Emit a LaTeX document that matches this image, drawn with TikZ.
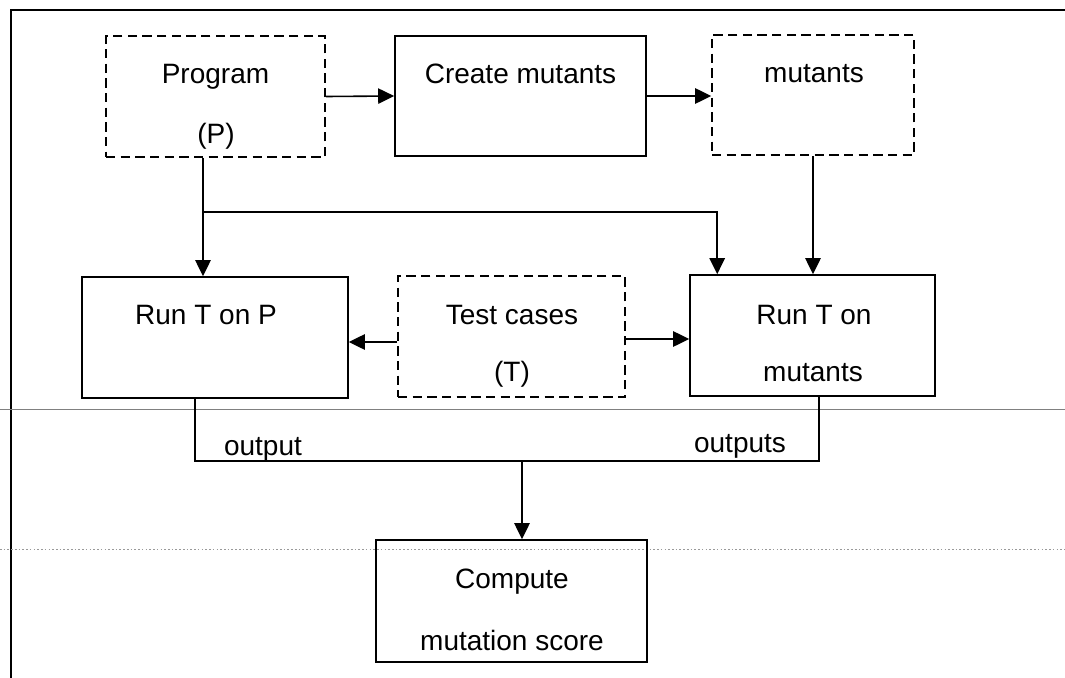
\documentclass[tikz,border=0pt]{standalone}
\usepackage{fontspec}
\setmainfont{Liberation Sans}
\usetikzlibrary{arrows.meta,calc}

\tikzset{
  box/.style={draw, line width=1.2pt, rectangle, inner sep=0pt},
  dbox/.style={box, dash pattern=on 7pt off 4pt},
  lbl/.style={anchor=base, inner sep=0pt, font=\fontsize{21}{25}\selectfont},
  conn/.style={line width=1.2pt},
  arr/.style={conn, -{Triangle[length=12pt,width=11.5pt]}},
  frame/.style={line width=1.3pt},
  sepline/.style={line width=0.7pt, black!50},
  dotline/.style={line width=0.7pt, black!40, dash pattern=on 1.2pt off 1.6pt}
}

\begin{document}
\begin{tikzpicture}[x=0.75pt,y=-0.75pt]
  \useasboundingbox (0,0) rectangle (1065,678);

  % page frame and separator lines
  \draw[frame] (1065,10) -- (11,10) -- (11,678);
  \draw[sepline] (0,409) -- (1065,409);
  \draw[dotline] (0,549) -- (1065,549);

  % boxes
  \node[dbox, minimum width=219*0.75pt, minimum height=121*0.75pt] (prog) at (215.5,96.5) {};
  \node[box,  minimum width=251*0.75pt, minimum height=120*0.75pt] (create) at (520.5,96) {};
  \node[dbox, minimum width=202*0.75pt, minimum height=120*0.75pt] (mut) at (813,95) {};
  \node[box,  minimum width=266*0.75pt, minimum height=121*0.75pt] (runp) at (215,337.5) {};
  \node[dbox, minimum width=227*0.75pt, minimum height=121*0.75pt] (test) at (511.5,336.5) {};
  \node[box,  minimum width=245*0.75pt, minimum height=121*0.75pt] (runm) at (812.5,335.5) {};
  \node[box,  minimum width=271*0.75pt, minimum height=122*0.75pt] (comp) at (511.5,601) {};

  % box texts
  \node[lbl] (progA) at (215.5,83) {Program};
  \node[lbl] (progB) at (216,143) {(P)};
  \node[lbl] (createA) at (520.5,83) {Create mutants};
  \node[lbl] (mutA) at (814,82) {mutants};
  \node[lbl] (runpA) at (206,324) {Run T on P};
  \node[lbl] (testA) at (512,324) {Test cases};
  \node[lbl] (testB) at (512,381) {(T)};
  \node[lbl] (runmA) at (814,324) {Run T on};
  \node[lbl] (runmB) at (813,381) {mutants};
  \node[lbl] (compA) at (512,588) {Compute};
  \node[lbl] (compB) at (512,650) {mutation score};

  % connectors in the upper row
  \draw[arr] (prog.east) -- (create.west);
  \draw[arr] (create.east) -- (create.east -| mut.west);

  % program to both run boxes
  \coordinate (psrc) at ($(prog.south)+(-12.5,0)$);
  \coordinate (br) at ($(psrc)+(0,54)$);
  \draw[arr] (psrc) -- (psrc |- runp.north);
  \coordinate (rmin) at ($(runm.north west)+(28,0)$);
  \draw[arr] (br) -| (rmin);
  \draw[arr] (mut.south) -- (mut.south |- runm.north);

  % test cases to both run boxes
  \coordinate (tl) at ($(test.west)+(0,5.5)$);
  \coordinate (tr) at ($(test.east)+(0,2.5)$);
  \draw[arr] (tl) -- (tl -| runp.east);
  \draw[arr] (tr) -- (tr -| runm.west);

  % outputs merge into the score computation
  \coordinate (po) at ($(runp.south)+(-20,0)$);
  \coordinate (mo) at ($(runm.south)+(6.5,0)$);
  \coordinate (jl) at ($(po)+(0,62)$);
  \coordinate (jr) at (jl -| mo);
  \draw[conn] (po) -- (jl) -- (jr) -- (mo);
  \coordinate (jm) at ($(jl -| comp.north)+(10.5,0)$);
  \draw[arr] (jm) -- (jm |- comp.north);

  \node[lbl] (outA) at (263,455) {output};
  \node[lbl] (outB) at (740,452) {outputs};
\end{tikzpicture}
\end{document}
